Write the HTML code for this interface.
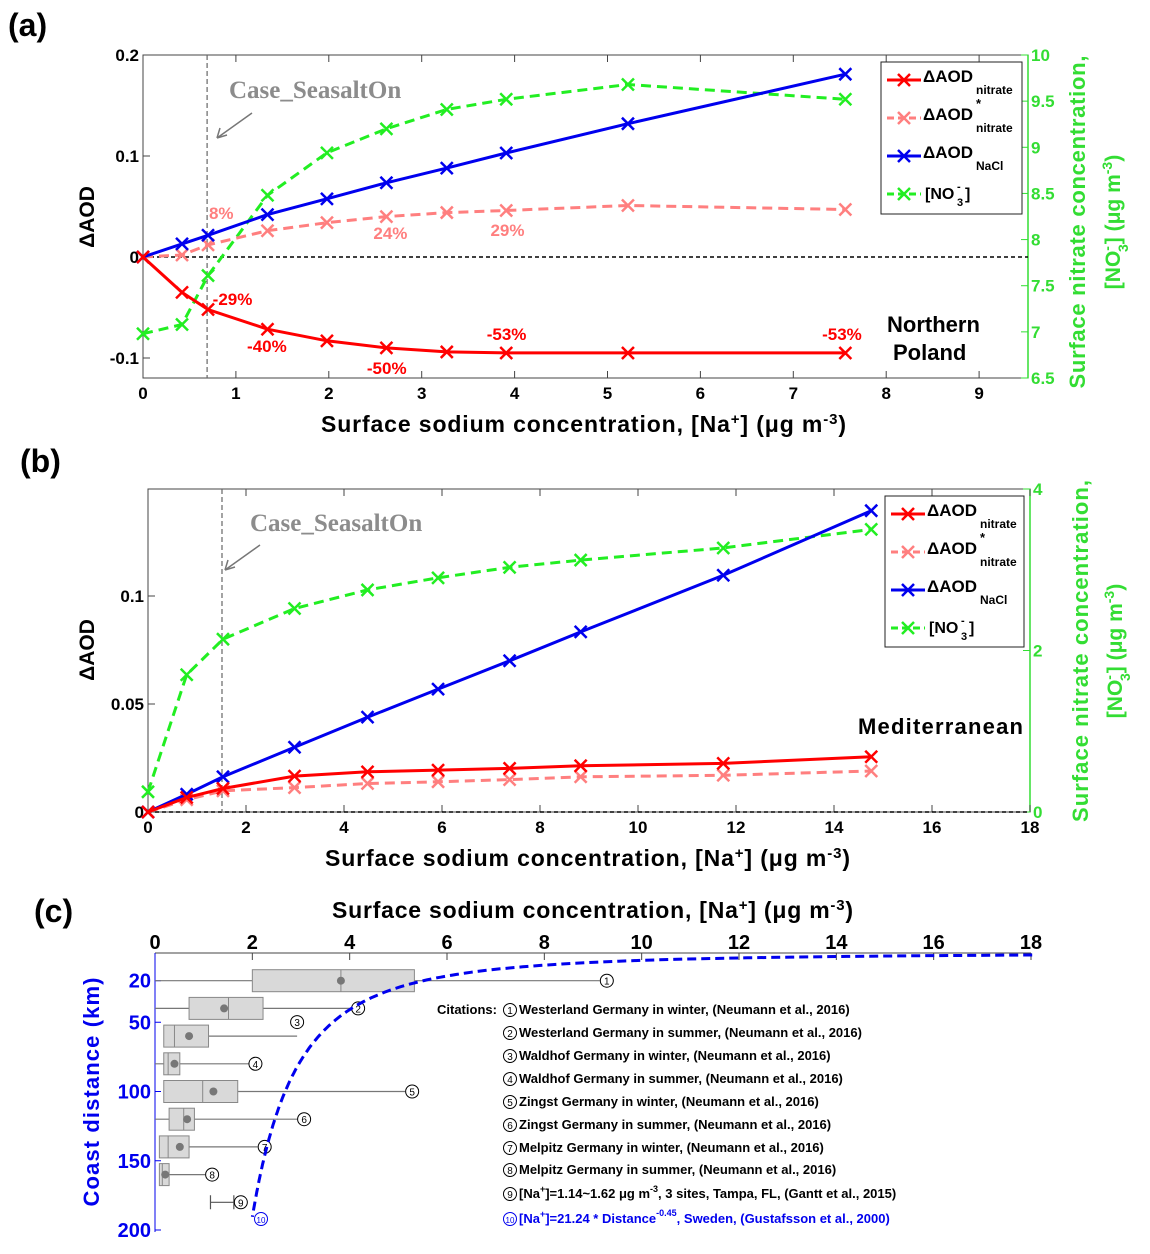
<!DOCTYPE html>
<html><head><meta charset="utf-8"><style>
body{margin:0;background:#fff;}
svg{display:block;font-family:"Liberation Sans",sans-serif;}
</style></head><body>
<svg id="s" width="1150" height="1254" viewBox="0 0 1150 1254">
<g id="ga"></g>
<g id="gb"></g>
<g id="gc"></g>
</svg>
<script>
// ---- Panel (a) data ----
const naA = [0, 0.42, 0.70, 1.34, 1.98, 2.62, 3.27, 3.91, 5.22, 7.56];
const nitrateA = [0, -0.035, -0.052, -0.0715, -0.083, -0.090, -0.094, -0.095, -0.095, -0.095];
const nitrateStarA = [0, 0.002, 0.012, 0.026, 0.034, 0.040, 0.044, 0.046, 0.051, 0.047];
const naclA = [0, 0.013, 0.0215, 0.042, 0.0576, 0.0735, 0.088, 0.103, 0.132, 0.181];
const no3A = [6.98, 7.08, 7.61, 8.48, 8.94, 9.20, 9.41, 9.52, 9.68, 9.52];
const xTicksA = [0,1,2,3,4,5,6,7,8,9];
const yTicksA = [-0.1, 0, 0.1, 0.2];
const yTickLabelsA = ["-0.1","0","0.1","0.2"];
const rTicksA = [6.5,7,7.5,8,8.5,9,9.5,10];
const pctText = ["8%","24%","29%","-29%","-40%","-50%","-53%","-53%"];
const pctNa = [0.71, 2.48, 3.74, 0.75, 1.12, 2.41, 3.70, 7.31];
const pctVal = [0.0376, 0.0178, 0.0208, -0.0475, -0.094, -0.116, -0.082, -0.082];
const pctKind = ["pink","pink","pink","red","red","red","red","red"];
// ---- Panel (b) data ----
const naB = [0, 0.79, 1.53, 2.99, 4.48, 5.92, 7.38, 8.83, 11.74, 14.76];
const nitrateB = [0, 0.0067, 0.0109, 0.0166, 0.0186, 0.0194, 0.0202, 0.0214, 0.0225, 0.0256];
const nitrateStarB = [0, 0.0057, 0.0098, 0.0113, 0.0132, 0.014, 0.015, 0.0163, 0.017, 0.019];
const naclB = [0, 0.0082, 0.0163, 0.030, 0.0439, 0.0569, 0.070, 0.0834, 0.1096, 0.1395];
const no3B = [0.25, 1.70, 2.14, 2.52, 2.75, 2.90, 3.03, 3.12, 3.27, 3.50];
const xTicksB = [0,2,4,6,8,10,12,14,16,18];
const yTicksB = [0, 0.05, 0.1];
const yTickLabelsB = ["0","0.05","0.1"];
const rTicksB = [0,2,4];
// ---- Panel (c) data ----
const boxDist = [20, 40, 60, 80, 100, 120, 140, 160];
const boxMin = [0, 0, 0.18, 0, 0.18, 0, 0.09, 0.09];
const boxQ1 = [2.0, 0.70, 0.18, 0.18, 0.18, 0.29, 0.09, 0.09];
const boxMed = [3.82, 1.51, 0.40, 0.27, 0.98, 0.59, 0.27, 0.15];
const boxQ3 = [5.33, 2.22, 1.10, 0.51, 1.70, 0.81, 0.70, 0.29];
const boxMax = [9.14, 4.03, 2.92, 1.92, 5.14, 2.92, 2.11, 1.03];
const boxMean = [3.82, 1.42, 0.70, 0.40, 1.20, 0.66, 0.51, 0.21];
const tampaRange = [1.14, 1.62];
const tampaDist = 180;
const fitCoef = [21.24, -0.45];
const xTicksC = [0,2,4,6,8,10,12,14,16,18];
const yTicksC = [20,50,100,150,200];
const citations = ["Westerland Germany in winter, (Neumann et al., 2016)","Westerland Germany in summer, (Neumann et al., 2016)","Waldhof Germany in winter, (Neumann et al., 2016)","Waldhof Germany in summer, (Neumann et al., 2016)","Zingst Germany in winter, (Neumann et al., 2016)","Zingst Germany in summer, (Neumann et al., 2016)","Melpitz Germany in winter, (Neumann et al., 2016)","Melpitz Germany in summer, (Neumann et al., 2016)"];

const NS="http://www.w3.org/2000/svg";
const RED="#ff0000", PINK="#ff7f7f", BLUE="#0000ee", GREEN="#22ee22", GREEN_AX="#33dd33";
function mk(parent,tag,attrs,text){const e=document.createElementNS(NS,tag);for(const k in attrs)e.setAttribute(k,attrs[k]);if(text!==undefined)e.textContent=text;parent.appendChild(e);return e;}
function lin(d0,d1,p0,p1){return v=>p0+(v-d0)*(p1-p0)/(d1-d0);}

function series(g,xs,ys,X,Y,color,dashed,name){
  const pts=xs.map((x,i)=>X(x).toFixed(1)+","+Y(ys[i]).toFixed(1)).join(" ");
  const pl=mk(g,"polyline",{points:pts,fill:"none",stroke:color,"stroke-width":3,"stroke-dasharray":dashed?"10,6":"none"});
  
  
  xs.forEach((x,i)=>{
    const cx=X(x),cy=Y(ys[i]),r=6;
    const p=mk(g,"path",{d:`M${cx-r},${cy-r}L${cx+r},${cy+r}M${cx-r},${cy+r}L${cx+r},${cy-r}`,stroke:color,"stroke-width":2.5});
    
    
  });
}
function legend(g,x,y,w,h){
  const r=mk(g,"rect",{x:x,y:y,width:w,height:h,fill:"#fff",stroke:"#222","stroke-width":1});
  
  
  const items=[[RED,false,"AOD","nitrate",""],[PINK,true,"AOD","nitrate","*"],[BLUE,false,"AOD","NaCl",""],[GREEN,true,"[NO","",""]];
  items.forEach((it,i)=>{
    const yy=y+18+i*38;
    const l=mk(g,"g",{});
    
    
    mk(l,"line",{x1:x+6,y1:yy,x2:x+40,y2:yy,stroke:it[0],"stroke-width":3,"stroke-dasharray":it[1]?"7,4":"none"});
    mk(l,"path",{d:`M${x+17},${yy-6}L${x+29},${yy+6}M${x+17},${yy+6}L${x+29},${yy-6}`,stroke:it[0],"stroke-width":2.5});
    if(i<3){
      mk(l,"text",{x:x+42,y:yy+2,"font-size":17,"font-weight":"bold"},"\u0394"+it[2]);
      mk(l,"text",{x:x+95,y:yy+14,"font-size":12,"font-weight":"bold"},it[3]);
      if(it[4])mk(l,"text",{x:x+95,y:yy-10,"font-size":13,"font-weight":"bold"},"*");
    }else{
      mk(l,"text",{x:x+44,y:yy+5,"font-size":16,"font-weight":"bold"},"[NO");
      mk(l,"text",{x:x+76,y:yy-4,"font-size":11,"font-weight":"bold"},"-");
      mk(l,"text",{x:x+76,y:yy+12,"font-size":11,"font-weight":"bold"},"3");
      mk(l,"text",{x:x+84,y:yy+5,"font-size":16,"font-weight":"bold"},"]");
    }
  });
}
function xlabel(g,cx,y,len){
  const t=mk(g,"text",{x:cx-len/2,y:y,"font-size":23,"font-weight":"bold",textLength:len,lengthAdjust:"spacing"});
  
  t.innerHTML='Surface sodium concentration, [Na<tspan dy="-8" font-size="15">+</tspan><tspan dy="8">]  (\u03bcg m</tspan><tspan dy="-8" font-size="15">-3</tspan><tspan dy="8">)</tspan>';
}
function rightTitle(g,x1,x2,cy,len1,len2){
  const t1=mk(g,"text",{x:0,y:0,"font-size":22,"font-weight":"bold",fill:GREEN_AX,"text-anchor":"middle",textLength:len1,lengthAdjust:"spacing",transform:`translate(${x1},${cy}) rotate(-90)`},"Surface nitrate concentration,");
  
  const t2=mk(g,"text",{x:0,y:0,"font-size":21,"font-weight":"bold",fill:GREEN_AX,"text-anchor":"middle",transform:`translate(${x2},${cy}) rotate(-90)`});
  t2.innerHTML='[NO<tspan dy="-8" font-size="14">-</tspan><tspan dy="16" dx="-6" font-size="14">3</tspan><tspan dy="-8">]  (\u03bcg m</tspan><tspan dy="-8" font-size="14">-3</tspan><tspan dy="8">)</tspan>';
  
}
function caseLabel(g,x,y,ax,ay){
  const t=mk(g,"text",{x:x,y:y,"font-size":25,"font-family":"Liberation Serif, serif","font-weight":"bold",fill:"#8c8c8c"},"Case_SeasaltOn");
  
  const a=mk(g,"path",{d:`M${ax},${ay}L${ax-35},${ay+25}M${ax-35},${ay+25}l3,-10M${ax-35},${ay+25}l10,-3`,stroke:"#777","stroke-width":1.5,fill:"none"});
  
}
function panelPlot(g,o){
  const X=lin(0,1,o.x0,o.x0+o.pxPerX), Y=lin(o.yd0,o.yd1,o.yp0,o.yp1), R=lin(o.rd0,o.rd1,o.rp0,o.rp1);
  const fr=mk(g,"rect",{x:o.L,y:o.T,width:o.R-o.L,height:o.B-o.T,fill:"none",stroke:"#444","stroke-width":1});
  
  const ra=mk(g,"line",{x1:o.R,y1:o.T,x2:o.R,y2:o.B,stroke:GREEN_AX,"stroke-width":1.5});
  
  o.xt.forEach(v=>{mk(g,"line",{x1:X(v),y1:o.B,x2:X(v),y2:o.B-7,stroke:"#444"});mk(g,"line",{x1:X(v),y1:o.T,x2:X(v),y2:o.T+7,stroke:"#444"});
    const t=mk(g,"text",{x:X(v),y:o.B+21,"font-size":17,"font-weight":"bold","text-anchor":"middle"},String(v));});
  o.yt.forEach((v,i)=>{mk(g,"line",{x1:o.L,y1:Y(v),x2:o.L+7,y2:Y(v),stroke:"#444"});
    const t=mk(g,"text",{x:o.L-4,y:Y(v)+6,"font-size":17,"font-weight":"bold","text-anchor":"end"},o.ytl[i]);});
  o.rt.forEach(v=>{mk(g,"line",{x1:o.R,y1:R(v),x2:o.R-7,y2:R(v),stroke:GREEN_AX});
    const t=mk(g,"text",{x:o.R+3,y:R(v)+6,"font-size":17,"font-weight":"bold",fill:GREEN_AX},String(v));});
  const z=mk(g,"line",{x1:o.L,y1:Y(0),x2:o.R,y2:Y(0),stroke:"#000","stroke-width":1.5,"stroke-dasharray":"4,3"});
  
  const v=mk(g,"line",{x1:X(o.caseX),y1:o.T,x2:X(o.caseX),y2:o.B,stroke:"#666","stroke-width":1.2,"stroke-dasharray":"5,3"});
  
  return {X,Y,R};
}

// Panel a
(function(){
  const g=document.getElementById("ga");
  const t=mk(g,"text",{x:8,y:36,"font-size":32,"font-weight":"bold"},"(a)");
  const s=panelPlot(g,{L:143,R:1028,T:55,B:378,x0:143,pxPerX:92.9,yd0:0,yd1:0.2,yp0:257,yp1:55,rd0:6.5,rd1:10,rp0:378,rp1:55,xt:xTicksA,yt:yTicksA,ytl:yTickLabelsA,rt:rTicksA,caseX:0.69});
  series(g,naA,no3A,s.X,s.R,GREEN,true,"no3");
  series(g,naA,nitrateStarA,s.X,s.Y,PINK,true,"aod-nitrate-star");
  series(g,naA,naclA,s.X,s.Y,BLUE,false,"aod-nacl");
  series(g,naA,nitrateA,s.X,s.Y,RED,false,"aod-nitrate");
  pctText.forEach((p,i)=>{const e=mk(g,"text",{x:s.X(pctNa[i]),y:s.Y(pctVal[i]),"font-size":17,"font-weight":"bold",fill:pctKind[i]=="red"?RED:PINK},p);});
  caseLabel(g,229,98,252,113);
  const yl=mk(g,"text",{x:0,y:0,"font-size":21,"font-weight":"bold","text-anchor":"middle",transform:"translate(94,217) rotate(-90)"},"\u0394AOD");
  xlabel(g,583.5,432,525);
  rightTitle(g,1085,1120,222,333,165);
  legend(g,881,62,141,152);
  const r1=mk(g,"text",{x:887,y:332,"font-size":22,"font-weight":"bold"},"Northern");
  const r2=mk(g,"text",{x:893,y:360,"font-size":22,"font-weight":"bold"},"Poland");
})();

// Panel b
(function(){
  const g=document.getElementById("gb");
  const t=mk(g,"text",{x:20,y:472,"font-size":32,"font-weight":"bold"},"(b)");
  const s=panelPlot(g,{L:148,R:1030,T:489,B:812,x0:148,pxPerX:49,yd0:0,yd1:0.05,yp0:812,yp1:704,rd0:0,rd1:4,rp0:812,rp1:489,xt:xTicksB,yt:yTicksB,ytl:yTickLabelsB,rt:rTicksB,caseX:1.51});
  series(g,naB,no3B,s.X,s.R,GREEN,true,"no3");
  series(g,naB,nitrateStarB,s.X,s.Y,PINK,true,"aod-nitrate-star");
  series(g,naB,naclB,s.X,s.Y,BLUE,false,"aod-nacl");
  series(g,naB,nitrateB,s.X,s.Y,RED,false,"aod-nitrate");
  caseLabel(g,250,531,260,545);
  const yl=mk(g,"text",{x:0,y:0,"font-size":21,"font-weight":"bold","text-anchor":"middle",transform:"translate(94,650) rotate(-90)"},"\u0394AOD");
  xlabel(g,587.5,866,525);
  rightTitle(g,1088,1122,651,342,160);
  legend(g,885,496,139,151);
  const r=mk(g,"text",{x:858,y:734,"font-size":22,"font-weight":"bold",textLength:165,lengthAdjust:"spacing"},"Mediterranean");
})();

// Panel c
(function(){
  const g=document.getElementById("gc");
  const t=mk(g,"text",{x:34,y:922,"font-size":32,"font-weight":"bold"},"(c)");
  const X=lin(0,18,155,1031), Y=lin(0,200,953,1230);
  xlabel(g,592.5,918,521);
  const ax=mk(g,"line",{x1:155,y1:953,x2:1031,y2:953,stroke:"#444","stroke-width":1});
  xTicksC.forEach(v=>{mk(g,"line",{x1:X(v),y1:953,x2:X(v),y2:960,stroke:"#444"});
    const e=mk(g,"text",{x:X(v),y:949,"font-size":20,"font-weight":"bold","text-anchor":"middle"},String(v));});
  const ya=mk(g,"line",{x1:155,y1:953,x2:155,y2:1232,stroke:BLUE,"stroke-width":1});
  yTicksC.forEach(v=>{mk(g,"line",{x1:155,y1:Y(v),x2:161,y2:Y(v),stroke:BLUE});
    const e=mk(g,"text",{x:151,y:Y(v)+7,"font-size":20,"font-weight":"bold","text-anchor":"end",fill:BLUE},String(v));});
  const yl=mk(g,"text",{x:0,y:0,"font-size":22,"font-weight":"bold","text-anchor":"middle",fill:BLUE,textLength:229,lengthAdjust:"spacing",transform:"translate(99,1092) rotate(-90)"},"Coast distance (km)");
  function circ(n,x,y,c){const gg=mk(g,"g",{});
    mk(gg,"circle",{cx:x,cy:y,r:6.5,fill:"#fff",stroke:c||"#000","stroke-width":1});mk(gg,"text",{x:x,y:y+4,"font-size":n>9?8:10,"text-anchor":"middle",fill:c||"#000"},String(n));}
  boxDist.forEach((d,i)=>{
    const y=Y(d), h=11;
    const b=mk(g,"g",{});
    mk(b,"line",{x1:X(boxMin[i]),y1:y,x2:X(boxMax[i]),y2:y,stroke:"#777","stroke-width":1.2});
    mk(b,"rect",{x:X(boxQ1[i]),y:y-h,width:X(boxQ3[i])-X(boxQ1[i]),height:2*h,fill:"#d9d9d9",stroke:"#888","stroke-width":1});
    mk(b,"line",{x1:X(boxMed[i]),y1:y-h,x2:X(boxMed[i]),y2:y+h,stroke:"#888"});
    mk(b,"circle",{cx:X(boxMean[i]),cy:y,r:4,fill:"#777"});
    if(i===2)circ(3,X(boxMax[i]),y-14);else circ(i+1,X(boxMax[i])+7,y);
  });
  const ty=Y(tampaDist);
  const tb=mk(g,"path",{d:`M${X(tampaRange[0])},${ty}L${X(tampaRange[1])},${ty}M${X(tampaRange[0])},${ty-7}v14M${X(tampaRange[1])},${ty-7}v14`,stroke:"#555","stroke-width":1.2,fill:"none"});
  
  circ(9,X(tampaRange[1])+7,ty);
  let pts=[];
  for(let d=1.44;d<=192;d+=(d<20?0.5:2)){pts.push(X(fitCoef[0]*Math.pow(d,fitCoef[1])).toFixed(1)+","+Y(d).toFixed(1));}
  const fc=mk(g,"polyline",{points:pts.join(" "),fill:"none",stroke:BLUE,"stroke-width":3,"stroke-dasharray":"9,5"});
  
  circ(10,261,1219,BLUE);
  const ct=mk(g,"text",{x:437,y:1014,"font-size":13,"font-weight":"bold"},"Citations:");
  const ys=[1010,1033,1056,1079,1102,1125,1148,1170,1194,1219];
  citations.forEach((c,i)=>{circ(i+1,510,ys[i]);const e=mk(g,"text",{x:519,y:ys[i]+4,"font-size":13,"font-weight":"bold"},c);});
  circ(9,510,ys[8]);
  const e9=mk(g,"text",{x:519,y:ys[8]+4,"font-size":13,"font-weight":"bold"});e9.innerHTML='[Na<tspan dy="-6" font-size="9">+</tspan><tspan dy="6">]=1.14~1.62 \u03bcg m</tspan><tspan dy="-6" font-size="9">-3</tspan><tspan dy="6">, 3 sites, Tampa, FL, (Gantt et al., 2015)</tspan>';
  
  circ(10,510,ys[9],BLUE);
  const e10=mk(g,"text",{x:519,y:ys[9]+4,"font-size":13,"font-weight":"bold",fill:BLUE});e10.innerHTML='[Na<tspan dy="-6" font-size="9">+</tspan><tspan dy="6">]=21.24 * Distance</tspan><tspan dy="-7" font-size="9">-0.45</tspan><tspan dy="7">, Sweden, (Gustafsson et al., 2000)</tspan>';
  
})();
</script>
</body></html>
